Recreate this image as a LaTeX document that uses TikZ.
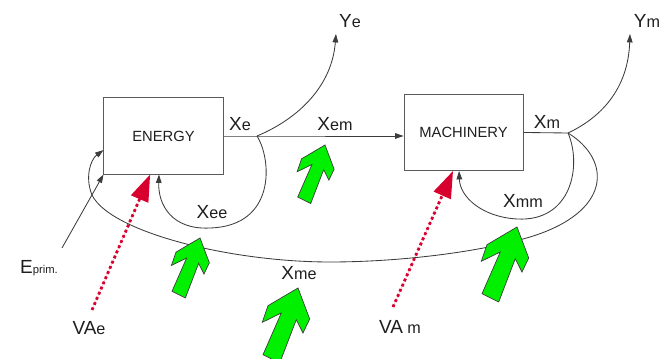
\documentclass[tikz,border=0pt]{standalone}
\usepackage{fontspec}
\setmainfont{Liberation Sans}
\usetikzlibrary{arrows.meta,positioning}
\definecolor{Line}{HTML}{3C3C3C}
\definecolor{Frame}{HTML}{5A5A5A}
\definecolor{Ink}{HTML}{1E1E1E}
\definecolor{Crimson}{HTML}{D8002E}
\definecolor{Leaf}{HTML}{00F000}
\tikzset{block/.style={draw=Frame,line width=0.7pt,minimum width=2.975cm,
    minimum height=1.9cm,inner sep=0pt,font=\fontsize{10.5}{12}\selectfont,text=Ink},
  flow/.style={line width=0.6pt,draw=Line},
  edge/.style={flow,-{Triangle[length=6pt,width=4pt]}},
  vaedge/.style={-{Triangle[length=19pt,width=13pt]},draw=Crimson,fill=Crimson,
    line width=2pt,dotted},
  lab/.style={inner sep=0pt,text=Ink},
  bigarrow/.style={fill=Leaf,draw=Line,line width=0.5pt,line join=miter}}
\newcommand{\xlab}[2]{{\fontsize{13.5}{14}\selectfont #1}{\fontsize{11.5}{12}\selectfont #2}}
\newcommand{\greenarr}[3]{% tip x, tip y, scale
  \draw[bigarrow,shift={(#1,#2)},scale=#3] (0,0) -- (11.7,31) -- (5,45) -- (-1.7,31.7)
    -- (-18.3,75) -- (-35,66.7) -- (-16.7,25) -- (-35.7,34.3) -- (-30,17.7) -- cycle;}

\begin{document}
\begin{tikzpicture}[x=0.025cm,y=-0.025cm]
  \useasboundingbox (0,0) rectangle (667,359);
  % sectors
  \node[block] (energy) at (163.5,136) {ENERGY};
  \node[block,right=4.5cm of energy,yshift=2.5pt] (machinery) {MACHINERY};
  % branch points and free ends
  \coordinate (se) at (257,136);
  \coordinate (sm) at (568,133);
  \coordinate (ye) at (336,34);
  \coordinate (ym) at (630,34);
  \coordinate (eprim) at (62,248);
  \coordinate (vae) at (92,310);
  \coordinate (vam) at (393,307);
  \coordinate (eeIn) at ([xshift=-3.2pt]energy.south);
  \coordinate (vaeIn) at ([xshift=-9.5pt]energy.south);
  \coordinate (meIn) at ([yshift=-10pt]energy.west);
  \coordinate (mmIn) at ([xshift=-3.2pt]machinery.south);
  \coordinate (vamIn) at ([xshift=-7.5pt]machinery.south);
  % flows
  \draw[edge] (energy.east) -- (se) -- (se -| machinery.west);
  \draw[edge] (se) .. controls (300,118) and (332,85) .. (ye);
  \draw[edge] (se) .. controls (272,160) and (276,226) .. (210,228)
    .. controls (172,230) and (158,205) .. (eeIn);
  \draw[flow] (machinery.east) -- (sm);
  \draw[edge] (sm) .. controls (600,118) and (628,90) .. (ym);
  \draw[edge] (sm) .. controls (582,165) and (572,222) .. (517,219)
    .. controls (482,217) and (460,197) .. (mmIn);
  \draw[edge] (sm) .. controls (612,160) and (612,212) .. (530,237)
    .. controls (480,252) and (400,262) .. (330,262)
    .. controls (230,262) and (110,232) .. (92,195)
    .. controls (85,178) and (90,160) .. (meIn);
  \draw[edge] (eprim) -- (energy.south west);
  \draw[vaedge] (vae) -- (vaeIn);
  \draw[vaedge] (vam) -- (vamIn);
  % value added arrows
  \greenarr{325}{145}{0.78}
  \greenarr{200}{238}{0.8}
  \greenarr{298}{288}{1.0}
  \greenarr{517}{227}{1.0}
  % labels
  \node[lab] (xe) at (240,124) {\xlab{X}{e}};
  \node[lab] (xem) at (335,124) {\xlab{X}{em}};
  \node[lab] (xm) at (547,122) {\xlab{X}{m}};
  \node[lab] (xee) at (212,212) {\xlab{X}{ee}};
  \node[lab] (xmm) at (523,201) {\xlab{X}{mm}};
  \node[lab] (xme) at (299,273) {\xlab{X}{me}};
  \node[lab] (yel) at (350,21) {\xlab{Y}{e}};
  \node[lab] (yml) at (647,21) {\xlab{Y}{m}};
  \node[lab] (epl) at (39,268) {{\fontsize{13.5}{14}\selectfont E}{\fontsize{8}{9}\selectfont prim.}};
  \node[lab] (vael) at (89,328) {\xlab{VA}{e}};
  \node[lab] (vaml) at (400,327) {\xlab{VA}{\ m}};
\end{tikzpicture}
\end{document}
